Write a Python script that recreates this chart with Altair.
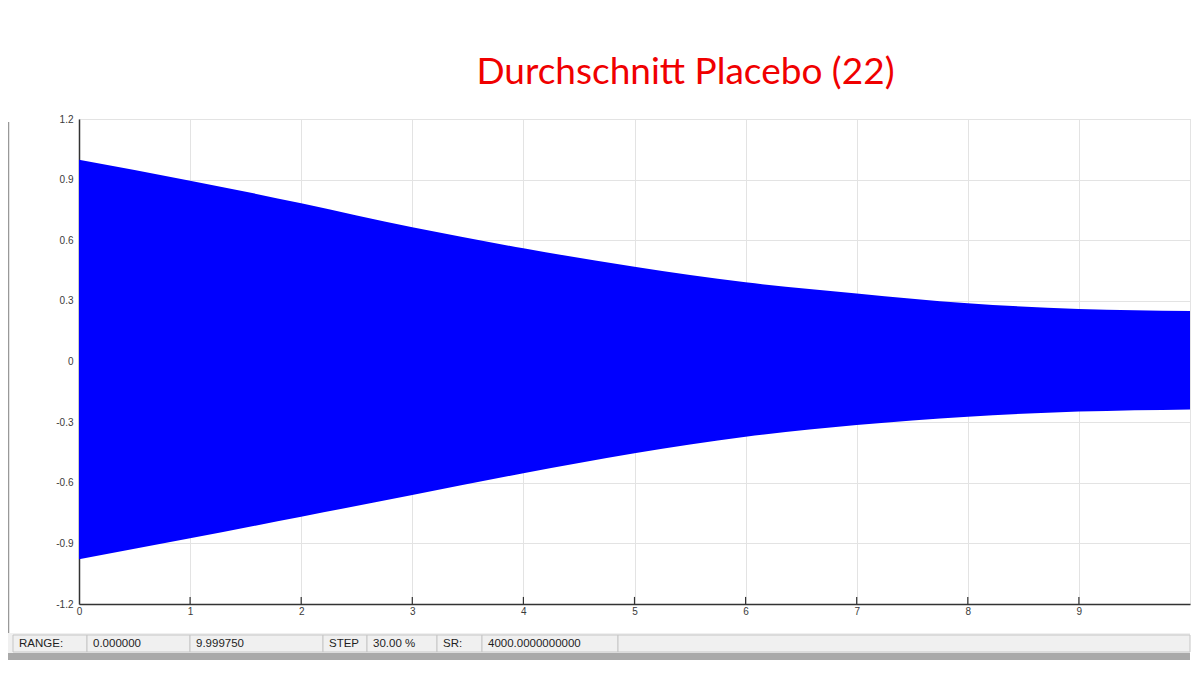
import altair as alt
import pandas as pd

# ---------------- data ----------------
title_text = "Durchschnitt Placebo (22)"
t_sec = [0, 1, 2, 3, 4, 5, 6, 7, 8, 9, 10]
env_upper = [0.998, 0.895, 0.783, 0.664, 0.560, 0.469, 0.392, 0.337, 0.288, 0.260, 0.250]
env_lower = [-0.979, -0.875, -0.768, -0.661, -0.553, -0.454, -0.372, -0.314, -0.273, -0.248, -0.237]
x_ticks = [0, 1, 2, 3, 4, 5, 6, 7, 8, 9, 10]
y_ticks = [-1.2, -0.9, -0.6, -0.3, 0, 0.3, 0.6, 0.9, 1.2]
status_texts = ["RANGE:", "0.000000", "9.999750", "STEP", "30.00 %", "SR:", "4000.0000000000", ""]

# ---------------- layout (pixels, relative to plot origin) ----------------
W, H = 1111, 485
PAD_L, PAD_T = 71, 111
cell_edges = [-66, 8, 111, 244, 288, 358, 403, 539, 1111]
BAR_Y0, BAR_Y1 = 516, 533
TEXT_Y = 525

AXIS_FONT = "Liberation Sans"
one = pd.DataFrame({"k": [0]})

df = pd.DataFrame({"t": t_sec, "upper": env_upper, "lower": env_lower})

xscale = alt.Scale(domain=[0, 10], nice=False, zero=False)
yscale = alt.Scale(domain=[-1.2, 1.2], nice=False, zero=False)

area = alt.Chart(df).mark_area(color="#0000ff", interpolate="monotone", opacity=1).encode(
    x=alt.X("t:Q", scale=xscale,
            axis=alt.Axis(values=x_ticks, tickSize=0, title=None, labelFlush=False,
                          format="d",
                          labelExpr="datum.value == 10 ? '' : datum.label",
                          labelFont=AXIS_FONT, labelFontSize=10, labelColor="#3a3a3a",
                          labelPadding=2, domainColor="#333333", domainWidth=1.5,
                          gridColor="#e3e3e3", gridWidth=1)),
    y=alt.Y("upper:Q", scale=yscale,
            axis=alt.Axis(values=y_ticks, tickSize=0, title=None, labelFlush=False,
                          format=".1~f",
                          labelExpr="replace(datum.label, '\u2212', '-')",
                          labelFont=AXIS_FONT, labelFontSize=10, labelColor="#3a3a3a",
                          labelPadding=6, domainColor="#333333", domainWidth=1.5,
                          gridColor="#e3e3e3", gridWidth=1)),
    y2="lower:Q",
)

ticks = alt.Chart(pd.DataFrame({"t": x_ticks[1:10]})).mark_rule(color="#333333", strokeWidth=1.2).encode(
    x=alt.X("t:Q", scale=xscale),
    y=alt.datum(-1.2),
    y2=alt.datum(-1.165),
)

frame_line = alt.Chart(one).mark_rule(color="#999999", strokeWidth=2.5).encode(
    x=alt.value(-71), y=alt.value(3), y2=alt.value(541)
)

status_bg = alt.Chart(one).mark_rect(fill="#f0f0f0").encode(
    x=alt.value(-71), x2=alt.value(1111), y=alt.value(BAR_Y0 - 2), y2=alt.value(BAR_Y1 + 1)
)
bottom_bar = alt.Chart(one).mark_rect(fill="#a9a9a9").encode(
    x=alt.value(-71), x2=alt.value(1111), y=alt.value(BAR_Y1 + 1), y2=alt.value(BAR_Y1 + 8)
)

layers = [area, ticks, frame_line, status_bg, bottom_bar]
for i, label in enumerate(status_texts):
    x0, x1 = cell_edges[i], cell_edges[i + 1]
    layers.append(
        alt.Chart(one).mark_rect(fill="#f0f0f0", stroke="#c6c6c6", strokeWidth=1).encode(
            x=alt.value(x0), x2=alt.value(x1), y=alt.value(BAR_Y0), y2=alt.value(BAR_Y1)
        )
    )
    if label:
        layers.append(
            alt.Chart(one).mark_text(text=label, align="left", baseline="middle",
                                     font=AXIS_FONT, fontSize=11.5, color="#1e1e1e").encode(
                x=alt.value(x0 + 6), y=alt.value(TEXT_Y)
            )
        )

chart = alt.layer(*layers).properties(
    width=W, height=H,
    title=alt.TitleParams(text=title_text, font="Lato", fontSize=37, fontWeight="normal",
                          color="#f00000", anchor="middle", frame="group", dx=51, dy=27,
                          offset=20, baseline="alphabetic"),
    autosize=alt.AutoSizeParams(type="none"),
    padding={"left": PAD_L, "top": PAD_T, "right": 2, "bottom": 60},
).configure_view(stroke=None).configure(background="white")

chart.save("out.html", embed_options={"renderer": "svg", "actions": False})
